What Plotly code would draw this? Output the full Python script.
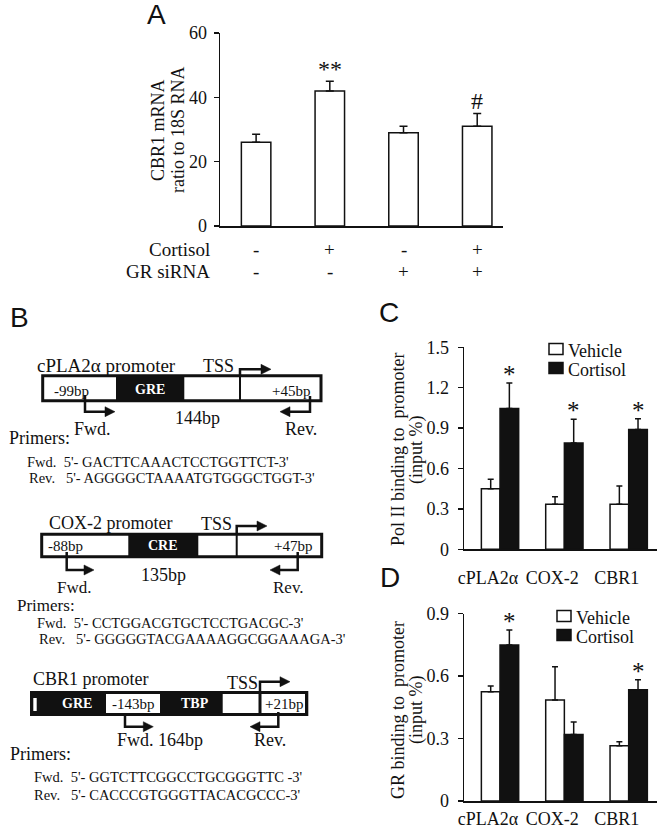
import plotly.graph_objects as go

# ---------------- Data ----------------
A_values = [26, 42, 29, 31]
A_errors = [2.5, 3.0, 2.0, 4.0]
A_cortisol = ['-', '+', '-', '+']
A_gr_sirna = ['-', '-', '+', '+']
A_marks = ['', '**', '', '#']
A_yticks = [0, 20, 40, 60]
A_ytitle = ['CBR1 mRNA', 'ratio to 18S RNA']

genes = ['cPLA2α', 'COX-2', 'CBR1']
series_names = ['Vehicle', 'Cortisol']
C_vehicle = [0.45, 0.335, 0.335]
C_vehicle_err = [0.07, 0.055, 0.135]
C_cortisol = [1.045, 0.79, 0.89]
C_cortisol_err = [0.19, 0.175, 0.08]
C_marks = ['*', '*', '*']
C_yticks = [0, 0.3, 0.6, 0.9, 1.2, 1.5]
C_yticklabels = ['0', '0.3', '0.6', '0.9', '1.2', '1.5']
C_ytitle = ['Pol II binding to\u00a0\u00a0promoter', '(input %)']

D_vehicle = [0.525, 0.485, 0.265]
D_vehicle_err = [0.028, 0.16, 0.02]
D_cortisol = [0.75, 0.32, 0.535]
D_cortisol_err = [0.072, 0.06, 0.048]
D_marks = ['*', '', '*']
D_yticks = [0, 0.3, 0.6, 0.9]
D_yticklabels = ['0', '0.3', '0.6', '0.9']
D_ytitle = ['GR binding to\u00a0\u00a0promoter', '(input %)']

promoter_names = ['cPLA2α promoter', 'COX-2 promoter', 'CBR1 promoter']
element_names = ['GRE', 'CRE', 'GRE']
upstream_labels = ['-99bp', '-88bp', '-143bp']
downstream_labels = ['+45bp', '+47bp', '+21bp']
amplicon_labels = ['144bp', '135bp', '164bp']
fwd_primers = ["5'- GACTTCAAACTCCTGGTTCT-3'", "5'- CCTGGACGTGCTCCTGACGC-3'", "5'- GGTCTTCGGCCTGCGGGTTC -3'"]
rev_primers = ["5'- AGGGGCTAAAATGTGGGCTGGT-3'", "5'- GGGGGTACGAAAAGGCGGAAAGA-3'", "5'- CACCCGTGGGTTACACGCCC-3'"]

# ---------------- Styling ----------------
W, H = 666, 838
SERIF = 'Liberation Serif, Times New Roman, serif'
SANS = 'Liberation Sans, Arial, sans-serif'
BLACK = '#111111'
NB = '\u00a0'
series_fill = ['white', BLACK]


def fx(x):
    return x / W


def fy(y):
    return 1 - y / H


fig = go.Figure()
annotations = []
shapes = []


def ytitle(lines, xs, yc):
    for s, x in zip(lines, xs):
        annotations.append(dict(x=fx(x), y=fy(yc), xref='paper', yref='paper', text=s,
                                textangle=-90, showarrow=False, xanchor='center',
                                yanchor='middle', font=dict(family=SERIF, size=18, color=BLACK)))


# ---------------- Panel A ----------------
idxA = list(range(len(A_values)))
fig.add_trace(go.Bar(
    x=idxA, y=A_values, width=0.4, xaxis='x', yaxis='y', showlegend=False,
    marker=dict(color='white', line=dict(color=BLACK, width=1.5)),
    error_y=dict(type='data', array=A_errors, arrayminus=[0] * len(A_errors), symmetric=False,
                 color=BLACK, thickness=1.5, width=4),
    hoverinfo='skip'))

for i, (v, e, m) in enumerate(zip(A_values, A_errors, A_marks)):
    if m:
        annotations.append(dict(x=i, y=v + e, xref='x', yref='y', text=m, showarrow=False,
                                yanchor='bottom', yshift=-3,
                                font=dict(family=SERIF, size=24, color=BLACK)))
for i, (c, g) in enumerate(zip(A_cortisol, A_gr_sirna)):
    annotations.append(dict(x=i, y=fy(250), xref='x', yref='paper', text=c, showarrow=False,
                            yanchor='middle', font=dict(family=SERIF, size=19, color=BLACK)))
    annotations.append(dict(x=i, y=fy(271), xref='x', yref='paper', text=g, showarrow=False,
                            yanchor='middle', font=dict(family=SERIF, size=19, color=BLACK)))
annotations.append(dict(x=fx(212), y=fy(250), xref='paper', yref='paper', text='Cortisol',
                        showarrow=False, xanchor='right', yanchor='middle',
                        font=dict(family=SERIF, size=19, color=BLACK)))
annotations.append(dict(x=fx(212), y=fy(271), xref='paper', yref='paper', text='GR siRNA',
                        showarrow=False, xanchor='right', yanchor='middle',
                        font=dict(family=SERIF, size=19, color=BLACK)))
ytitle(A_ytitle, [158, 178], 130)

# ---------------- Panels C and D ----------------
BARGAP = 0.42
bar_w = (1 - BARGAP) / 2
idxG = list(range(len(genes)))


def add_grouped(values, errors, marks, xa, ya, legend_xy):
    for name, fill, vals, errs in zip(series_names, series_fill, values, errors):
        fig.add_trace(go.Bar(
            x=idxG, y=vals, name=name, xaxis=xa, yaxis=ya, showlegend=False,
            marker=dict(color=fill, line=dict(color=BLACK, width=1.5)),
            error_y=dict(type='data', array=errs, arrayminus=[0] * len(errs), symmetric=False,
                         color=BLACK, thickness=1.5, width=3),
            hoverinfo='skip'))
    cor, cor_err = values[1], errors[1]
    for i, (v, e, m) in enumerate(zip(cor, cor_err, marks)):
        if m:
            annotations.append(dict(x=i + bar_w / 2, y=v + e, xref=xa, yref=ya, text=m,
                                    showarrow=False, yanchor='bottom', yshift=-7,
                                    font=dict(family=SERIF, size=25, color=BLACK)))
    # legend key (squares + labels)
    lx, ly = legend_xy
    for k, (name, fill) in enumerate(zip(series_names, series_fill)):
        cy = ly + k * 19
        shapes.append(dict(type='rect', xref='paper', yref='paper',
                           x0=fx(lx), x1=fx(lx + 14), y0=fy(cy + 5.5), y1=fy(cy - 5.5),
                           fillcolor=fill, line=dict(color=BLACK, width=1.5), layer='above'))
        annotations.append(dict(x=fx(lx + 17), y=fy(cy + 2), xref='paper', yref='paper',
                                text=name, showarrow=False, xanchor='left', yanchor='middle',
                                font=dict(family=SERIF, size=18, color=BLACK)))


add_grouped([C_vehicle, C_cortisol], [C_vehicle_err, C_cortisol_err], C_marks, 'x2', 'y2', (549, 349))
add_grouped([D_vehicle, D_cortisol], [D_vehicle_err, D_cortisol_err], D_marks, 'x3', 'y3', (557, 616))
ytitle(C_ytitle, [398, 416], 450)
ytitle(D_ytitle, [398, 416], 710)

# ---------------- Panel letters ----------------
for letter, (lx, ly) in zip('ABCD', [(156, 14), (19, 317), (389, 313), (390, 577)]):
    annotations.append(dict(x=fx(lx), y=fy(ly), xref='paper', yref='paper', text=letter,
                            showarrow=False, xanchor='center', yanchor='middle',
                            font=dict(family=SANS, size=28, color=BLACK)))

# ---------------- Panel B (schematic) ----------------


def rect(x0, y0, x1, y1, fill, lw=0):
    shapes.append(dict(type='rect', xref='paper', yref='paper', x0=fx(x0), x1=fx(x1),
                       y0=fy(y1), y1=fy(y0), fillcolor=fill,
                       line=dict(color=BLACK, width=lw), layer='above'))


def poly(points, lw=2.5):
    d = 'M ' + ' L '.join(f'{fx(x):.5f},{fy(y):.5f}' for x, y in points)
    shapes.append(dict(type='path', xref='paper', yref='paper', path=d,
                       line=dict(color=BLACK, width=lw), layer='above'))


def head(tx, ty, direction):
    L, hw = 10, 5
    bx = tx - L if direction == 'right' else tx + L
    d = (f'M {fx(tx):.5f},{fy(ty):.5f} L {fx(bx):.5f},{fy(ty - hw):.5f} '
         f'L {fx(bx):.5f},{fy(ty + hw):.5f} Z')
    shapes.append(dict(type='path', xref='paper', yref='paper', path=d, fillcolor=BLACK,
                       line=dict(color=BLACK, width=0.5), layer='above'))


def text(x, y, s, size=18, anchor='center', color=BLACK, bold=False):
    if bold:
        s = '<b>' + s + '</b>'
    annotations.append(dict(x=fx(x), y=fy(y), xref='paper', yref='paper', text=s,
                            showarrow=False, xanchor=anchor, yanchor='middle',
                            font=dict(family=SERIF, size=size, color=color)))


# cPLA2alpha
rect(42.7, 375.7, 321, 400.7, 'white', 3)
rect(116, 375.7, 184.3, 400.7, BLACK)
poly([(240, 375.7), (240, 400.7)], 2)
text(71, 391, upstream_labels[0], 15)
text(150, 389, element_names[0], 14, bold=True, color='white')
text(291, 391, downstream_labels[0], 15)
text(106, 365, promoter_names[0], 19)
text(218, 366, 'TSS', 18)
poly([(240, 375.7), (240, 369.3), (262, 369.3)])
head(271, 369.3, 'right')
poly([(85, 395), (85, 411.7), (106, 411.7)])
head(115, 411.7, 'right')
poly([(310, 396), (310, 411.7), (289, 411.7)])
head(280, 411.7, 'left')
text(197, 418, amplicon_labels[0], 18)
text(93, 429, 'Fwd.', 18)
text(301, 429, 'Rev.', 18)
text(7, 438, 'Primers:', 18, anchor='left')
text(25, 462, 'Fwd.' + NB * 2 + fwd_primers[0], 14.5, anchor='left')
text(27, 478, 'Rev.' + NB * 3 + rev_primers[0], 14.5, anchor='left')

# COX-2
rect(41.7, 534.3, 321.7, 556.7, 'white', 3)
rect(128.3, 534.3, 198.3, 556.7, BLACK)
poly([(236.7, 534.3), (236.7, 556.7)], 2)
text(65, 546, upstream_labels[1], 15)
text(163, 545, element_names[1], 14, bold=True, color='white')
text(292.5, 546, downstream_labels[1], 15)
text(110, 523, promoter_names[1], 18)
text(216, 524, 'TSS', 18)
poly([(236.7, 534.3), (236.7, 526), (258, 526)])
head(267, 526, 'right')
poly([(66.7, 552), (66.7, 570), (85, 570)])
head(94, 570, 'right')
poly([(297.7, 552), (297.7, 570), (279, 570)])
head(270, 570, 'left')
text(163, 575, amplicon_labels[1], 18)
text(74, 587, 'Fwd.', 17)
text(288, 587, 'Rev.', 17)
text(15, 605, 'Primers:', 17, anchor='left')
text(35, 622.5, 'Fwd.' + NB * 2 + fwd_primers[1], 14.5, anchor='left')
text(36.7, 638.5, 'Rev.' + NB * 3 + rev_primers[1], 14.5, anchor='left')

# CBR1
rect(30, 691, 308.3, 716, BLACK)
rect(33.3, 698, 36.7, 711, 'white')
rect(106, 694, 160, 713, 'white')
rect(222.7, 694, 258.5, 713, 'white')
rect(261.5, 694, 305, 713, 'white')
text(76.7, 703, element_names[2], 14, bold=True, color='white')
text(133, 704, upstream_labels[2], 15)
text(195, 703, 'TBP', 14, bold=True, color='white')
text(284, 704, downstream_labels[2], 15)
text(91, 679, promoter_names[2], 18)
text(242.5, 683, 'TSS', 18)
poly([(260, 691), (260, 681.7), (281, 681.7)])
head(290, 681.7, 'right')
poly([(125, 713), (125, 726.7), (144, 726.7)])
head(153.3, 726.7, 'right')
poly([(278.3, 712), (278.3, 726.7), (259, 726.7)])
head(250, 726.7, 'left')
text(160, 740, 'Fwd. ' + amplicon_labels[2], 18)
text(270, 740, 'Rev.', 18)
text(8, 754, 'Primers:', 18, anchor='left')
text(32, 777, 'Fwd.' + NB * 2 + fwd_primers[2], 14.5, anchor='left')
text(32, 795, 'Rev.' + NB * 3 + rev_primers[2], 14.5, anchor='left')

# ---------------- Layout ----------------
axis_common = dict(showgrid=False, zeroline=False, showline=True, linecolor=BLACK, linewidth=1.5,
                   fixedrange=True)
tickfont = dict(family=SERIF, size=18, color=BLACK)

fig.update_layout(
    width=W, height=H,
    font=dict(family=SERIF, color=BLACK),
    margin=dict(l=0, r=0, t=0, b=0, autoexpand=False),
    paper_bgcolor='white', plot_bgcolor='rgba(0,0,0,0)',
    barmode='group', bargap=BARGAP, bargroupgap=0,
    showlegend=False,
    xaxis=dict(domain=[fx(220), fx(503)], range=[-0.49, 3.35], anchor='y',
               showticklabels=False, ticks='', **axis_common),
    yaxis=dict(domain=[fy(226), fy(33)], range=[0, 60], anchor='x', tickvals=A_yticks,
               ticks='outside', ticklen=5, tickwidth=1.5, tickcolor=BLACK, tickfont=tickfont,
               ticklabelstandoff=3, **axis_common),
    xaxis2=dict(domain=[fx(464), fx(657)], range=[-0.56, 2.44], anchor='y2',
                tickvals=idxG, ticktext=genes, ticks='', tickfont=tickfont,
                ticklabelstandoff=12, ticklabelshift=-12, **axis_common),
    yaxis2=dict(domain=[fy(549.3), fy(347.3)], range=[0, 1.5], anchor='x2',
                tickvals=C_yticks, ticktext=C_yticklabels,
                ticks='outside', ticklen=5, tickwidth=1.5, tickcolor=BLACK, tickfont=tickfont,
                ticklabelstandoff=5, **axis_common),
    xaxis3=dict(domain=[fx(464), fx(657)], range=[-0.56, 2.44], anchor='y3',
                tickvals=idxG, ticktext=genes, ticks='', tickfont=tickfont,
                ticklabelstandoff=1, ticklabelshift=-12, **axis_common),
    yaxis3=dict(domain=[fy(801), fy(613.7)], range=[0, 0.9], anchor='x3',
                tickvals=D_yticks, ticktext=D_yticklabels,
                ticks='outside', ticklen=5, tickwidth=1.5, tickcolor=BLACK, tickfont=tickfont,
                ticklabelstandoff=5, **axis_common),
    annotations=annotations,
    shapes=shapes,
)

fig.write_html('out.html', config={'displayModeBar': False, 'staticPlot': True},
               post_script="document.body.style.margin='0px';")
